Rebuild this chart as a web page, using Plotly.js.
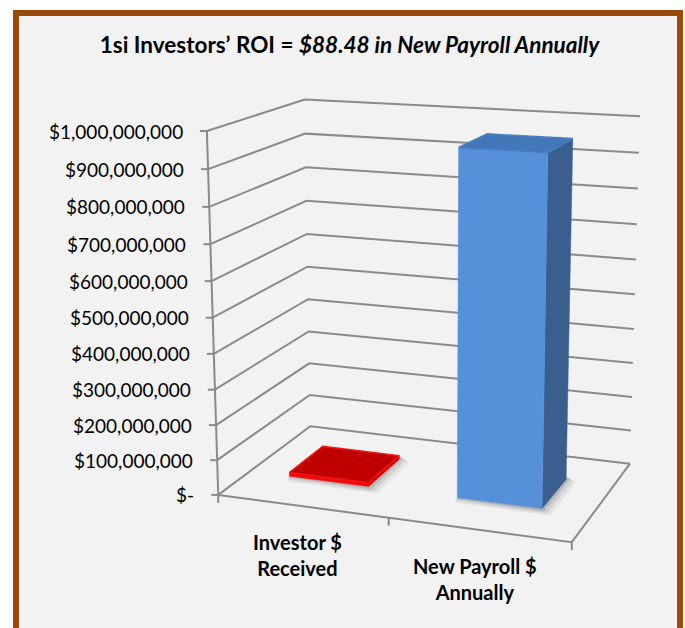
<!DOCTYPE html>
<html><head><meta charset="utf-8">
<script src="https://cdn.plot.ly/plotly-3.0.1.min.js"></script>
<style>html,body{margin:0;padding:0;background:#fff;overflow:hidden}</style>
</head><body><div id="chart" style="width:685px;height:628px"></div>
<script>
// ---------------- data ----------------
const categories = ["Investor $<br>Received", "New Payroll $<br>Annually"];
const values = [10850000, 960000000];
const tickVals = [0, 1e8, 2e8, 3e8, 4e8, 5e8, 6e8, 7e8, 8e8, 9e8, 1e9];
const tickText = ["$-", "$100,000,000", "$200,000,000", "$300,000,000", "$400,000,000", "$500,000,000",
  "$600,000,000", "$700,000,000", "$800,000,000", "$900,000,000", "$1,000,000,000"];
const zMax = 1e9;

// ---------------- view (perspective calibration of the 3-D box) ----------------
// [category fraction, depth fraction, value fraction, screen x, screen y]
const frontLeftY = [494, 460.7, 425, 389.3, 354, 318.3, 281.7, 244.7, 207.3, 169, 130];
const backLeftX = [310.7, 310, 309.3, 308.7, 308.3, 307.3, 306.7, 306, 306, 305, 305];
const backLeftY = [426.7, 394.3, 363.3, 331, 299.3, 266.7, 234.3, 201, 167.7, 133.3, 99.3];
const backRightY = [464, 431, 397, 363, 329, 294, 259, 224, 188, 153, 117];
const calib = [];
frontLeftY.forEach((y, k) => calib.push([0, 0, k / 10, 218 - 11 * (494 - y) / 364, y]));
backLeftY.forEach((y, k) => calib.push([0, 1, k / 10, backLeftX[k], y]));
backRightY.forEach((y, k) => calib.push([1, 1, k / 10, 630 + 10 * (464 - y) / 347, y]));
calib.push([1, 0, 0, 572, 542]);

const CX = 400, CY = 300, SC = 300;
function fit(pts) {
  const N = 11, M = [], b = new Array(N).fill(0);
  for (let i = 0; i < N; i++) M.push(new Array(N).fill(0));
  function add(row, val) {
    for (let i = 0; i < N; i++) { b[i] += row[i] * val; for (let j = 0; j < N; j++) M[i][j] += row[i] * row[j]; }
  }
  pts.forEach(([X, Y, Z, x, y]) => {
    const xn = (x - CX) / SC, yn = (y - CY) / SC;
    add([X, Y, Z, 1, 0, 0, 0, 0, -xn * X, -xn * Y, -xn * Z], xn);
    add([0, 0, 0, 0, X, Y, Z, 1, -yn * X, -yn * Y, -yn * Z], yn);
  });
  for (let c = 0; c < N; c++) {
    let piv = c;
    for (let r = c + 1; r < N; r++) if (Math.abs(M[r][c]) > Math.abs(M[piv][c])) piv = r;
    [M[c], M[piv]] = [M[piv], M[c]]; [b[c], b[piv]] = [b[piv], b[c]];
    for (let r = c + 1; r < N; r++) {
      const f = M[r][c] / M[c][c];
      for (let k = c; k < N; k++) M[r][k] -= f * M[c][k];
      b[r] -= f * b[c];
    }
  }
  const p = new Array(N).fill(0);
  for (let r = N - 1; r >= 0; r--) {
    let s = b[r];
    for (let k = r + 1; k < N; k++) s -= M[r][k] * p[k];
    p[r] = s / M[r][r];
  }
  return p;
}
const P = fit(calib);
// u: category coordinate 0..2, v: depth 0..1, w: value
function proj(u, v, w) {
  const X = u / categories.length, Y = v, Z = w / zMax;
  const d = P[8] * X + P[9] * Y + P[10] * Z + 1;
  return [(P[0] * X + P[1] * Y + P[2] * Z + P[3]) / d * SC + CX,
          (P[4] * X + P[5] * Y + P[6] * Z + P[7]) / d * SC + CY];
}

// ---------------- styles ----------------
const gridColor = '#8A8A8A';
const frontColors = ["#F00A0A", "#5690D8"];
const sideColors = ["#D80000", "#3A5F8F"];
const topColors = ["#C00000", "#4476BA"];
const topLine = ["#F41414", "#4A7EC2"];
const barCenter = 0.485, barHalf = 0.24, depth0 = 0.32, depth1 = 0.70;
const fontFam = 'Lato, "Open Sans", sans-serif';

const traces = [];
function line(pts, color, width) {
  traces.push({type: 'scatter', mode: 'lines', x: pts.map(p => p ? p[0] : null), y: pts.map(p => p ? p[1] : null),
    line: {color: color, width: width}, hoverinfo: 'skip', showlegend: false, connectgaps: false});
}
function poly(pts, fill, lineColor, lineWidth) {
  traces.push({type: 'scatter', mode: 'lines', fill: 'toself', fillcolor: fill,
    x: pts.map(p => p[0]).concat([pts[0][0]]), y: pts.map(p => p[1]).concat([pts[0][1]]),
    line: {color: lineColor || 'rgba(0,0,0,0)', width: lineWidth || 0}, hoverinfo: 'skip', showlegend: false});
}

// walls' gridlines (left wall + back wall)
const grid = [];
tickVals.forEach(v => { grid.push(proj(0, 0, v), proj(0, 1, v), proj(categories.length, 1, v), null); });
line(grid, gridColor, 2);
// value axis line + ticks
const axisPts = [proj(0, 0, 0), proj(0, 0, zMax), null];
tickVals.forEach(v => { const q = proj(0, 0, v); axisPts.push([q[0] - 7, q[1]], q, null); });
line(axisPts, gridColor, 2);
// floor front and right edges + category ticks
const floorPts = [proj(0, 0, 0), proj(categories.length, 0, 0), proj(categories.length, 1, 0), null];
for (let c = 0; c <= categories.length; c++) { const q = proj(c, 0, 0); floorPts.push(q, [q[0], q[1] + 8], null); }
line(floorPts, gridColor, 2);

// bars
values.forEach((val, i) => {
  const u0 = i + barCenter - barHalf, u1 = i + barCenter + barHalf;
  const c = (u, v, w) => proj(u, v, w);
  // soft shadow on the floor
  const sh = [c(u0, depth0, 0), c(u1, depth0, 0), c(u1, depth1, 0)];
  const off = [[8, 5, 'rgba(0,0,0,0.06)'], [5, 3, 'rgba(0,0,0,0.08)'], [2, 1, 'rgba(0,0,0,0.12)']];
  off.forEach(([dx, dy, col]) => {
    poly([[sh[0][0] - 2, sh[0][1] + dy], [sh[1][0] + dx, sh[1][1] + dy + 2], [sh[2][0] + dx + 2, sh[2][1] + dy - 2],
      [sh[2][0], sh[2][1] - 3], c(u0, depth0, 0)], col);
  });
  // right side face
  poly([c(u1, depth0, 0), c(u1, depth1, 0), c(u1, depth1, val), c(u1, depth0, val)], sideColors[i], sideColors[i], 0.5);
  // front face
  poly([c(u0, depth0, 0), c(u1, depth0, 0), c(u1, depth0, val), c(u0, depth0, val)], frontColors[i], frontColors[i], 0.5);
  // top face
  poly([c(u0, depth0, val), c(u1, depth0, val), c(u1, depth1, val), c(u0, depth1, val)], topColors[i], topLine[i], 1.5);
});

// ---------------- texts ----------------
const annotations = [];
tickVals.forEach((v, k) => {
  const q = proj(0, 0, v);
  annotations.push({x: q[0] - 22, y: q[1], xref: 'x', yref: 'y', xanchor: 'right', yanchor: 'middle',
    text: tickText[k], showarrow: false, font: {family: fontFam, size: 19, color: '#000'}});
});
categories.forEach((cat, i) => {
  const q = proj(i + 0.5, 0, 0);
  annotations.push({x: q[0] - 4, y: q[1] + 49, xref: 'x', yref: 'y', xanchor: 'center', yanchor: 'middle',
    text: '<b>' + cat + '</b>', showarrow: false, font: {family: fontFam, size: 20, color: '#000'}});
});

const layout = {
  width: 685, height: 628, margin: {l: 0, r: 0, t: 0, b: 0, pad: 0},
  paper_bgcolor: '#FFFFFF', plot_bgcolor: 'rgba(0,0,0,0)', showlegend: false,
  xaxis: {range: [0, 685], visible: false, fixedrange: true},
  yaxis: {range: [628, 0], visible: false, fixedrange: true},
  title: {text: "<b>1si Investors’ ROI = <i>$88.48 in New Payroll Annually</i></b>",
    x: 349.5 / 685, xanchor: 'center', y: 1 - 45 / 628, yanchor: 'middle',
    font: {family: fontFam, size: 22.5, color: '#000'}},
  shapes: [{type: 'rect', xref: 'x', yref: 'y', layer: 'below', x0: 16, x1: 680, y0: 13, y1: 700,
    fillcolor: '#F2F2F2', line: {color: '#9C4A08', width: 6}}],
  annotations: annotations
};

Plotly.newPlot('chart', traces, layout, {displayModeBar: false, staticPlot: true});
</script></body></html>
